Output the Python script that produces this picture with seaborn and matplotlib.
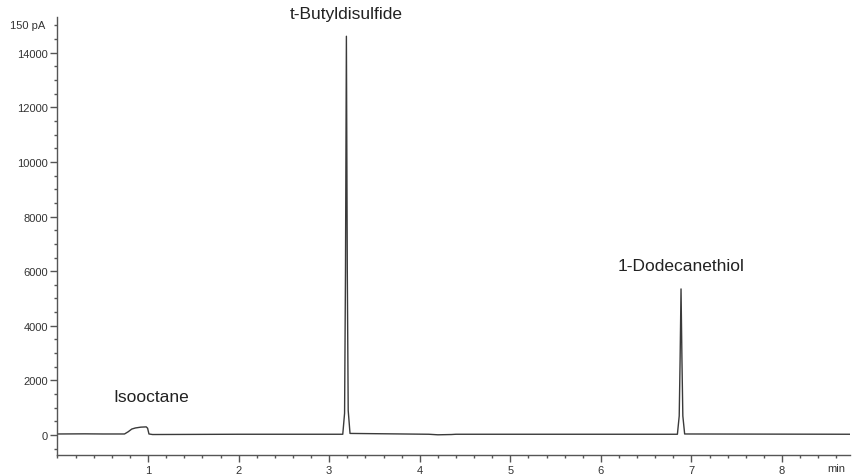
import pandas as pd
import seaborn as sns
import matplotlib.pyplot as plt
from matplotlib.ticker import MultipleLocator, FixedLocator

# chromatogram trace (min, signal)
time = [0.0, 0.3, 0.5, 0.74, 0.78, 0.82, 0.86, 0.92, 0.98, 0.995, 1.01, 1.05,
        2.0, 3.15, 3.17, 3.18, 3.19, 3.20, 3.21, 3.23, 4.1, 4.2, 4.35, 4.4,
        6.845, 6.865, 6.875, 6.885, 6.895, 6.905, 6.925, 8.75]
signal = [40, 45, 40, 40, 120, 220, 260, 290, 300, 250, 40, 20,
          30, 30, 800, 6000, 14600, 6000, 900, 60, 30, 10, 20, 30,
          30, 700, 2800, 5350, 2800, 700, 40, 30]

peak_names = ['Isooctane', 't-Butyldisulfide', '1-Dodecanethiol']
label_x = [1.03, 3.19, 6.88]
label_y = [1430, 15450, 6200]

y_major = [0, 2000, 4000, 6000, 8000, 10000, 12000, 14000]
x_major = [1, 2, 3, 4, 5, 6, 7, 8]

sns.set_style('ticks')
plt.rcParams['font.family'] = ['Liberation Sans', 'DejaVu Sans']

df = pd.DataFrame({'time': time, 'signal': signal})

fig = plt.figure(figsize=(8.53, 4.77), dpi=100)
ax = fig.add_axes([0.0674, 0.044, 0.929, 0.918])
sns.lineplot(data=df, x='time', y='signal', ax=ax, color='#3a3a3a', linewidth=1.0)

ax.set_xlim(0, 8.75)
ax.set_ylim(-730, 15300)
ax.set_xlabel('')
ax.set_ylabel('')

ax.yaxis.set_major_locator(FixedLocator(y_major))
ax.yaxis.set_minor_locator(MultipleLocator(500))
ax.xaxis.set_major_locator(FixedLocator(x_major))
ax.xaxis.set_minor_locator(MultipleLocator(0.2))

for s in ['top', 'right']:
    ax.spines[s].set_visible(False)
for s in ['left', 'bottom']:
    ax.spines[s].set_color('#555555')
    ax.spines[s].set_linewidth(1.0)

ax.tick_params(axis='both', which='major', length=5, width=1, color='#555555',
               labelsize=8, labelcolor='#333333', pad=2)
ax.tick_params(axis='both', which='minor', length=2.5, width=1, color='#555555')

ax.text(-0.13, 15000, '150 pA', ha='right', va='center', fontsize=8, color='#333333')
ax.text(8.6, -1200, 'min', ha='center', va='center', fontsize=8, color='#333333')

for name, lx, ly in zip(peak_names, label_x, label_y):
    ax.text(lx, ly, name, ha='center', va='center', fontsize=12.5, color='#222222', clip_on=False)

plt.savefig('out.png', dpi=100)
